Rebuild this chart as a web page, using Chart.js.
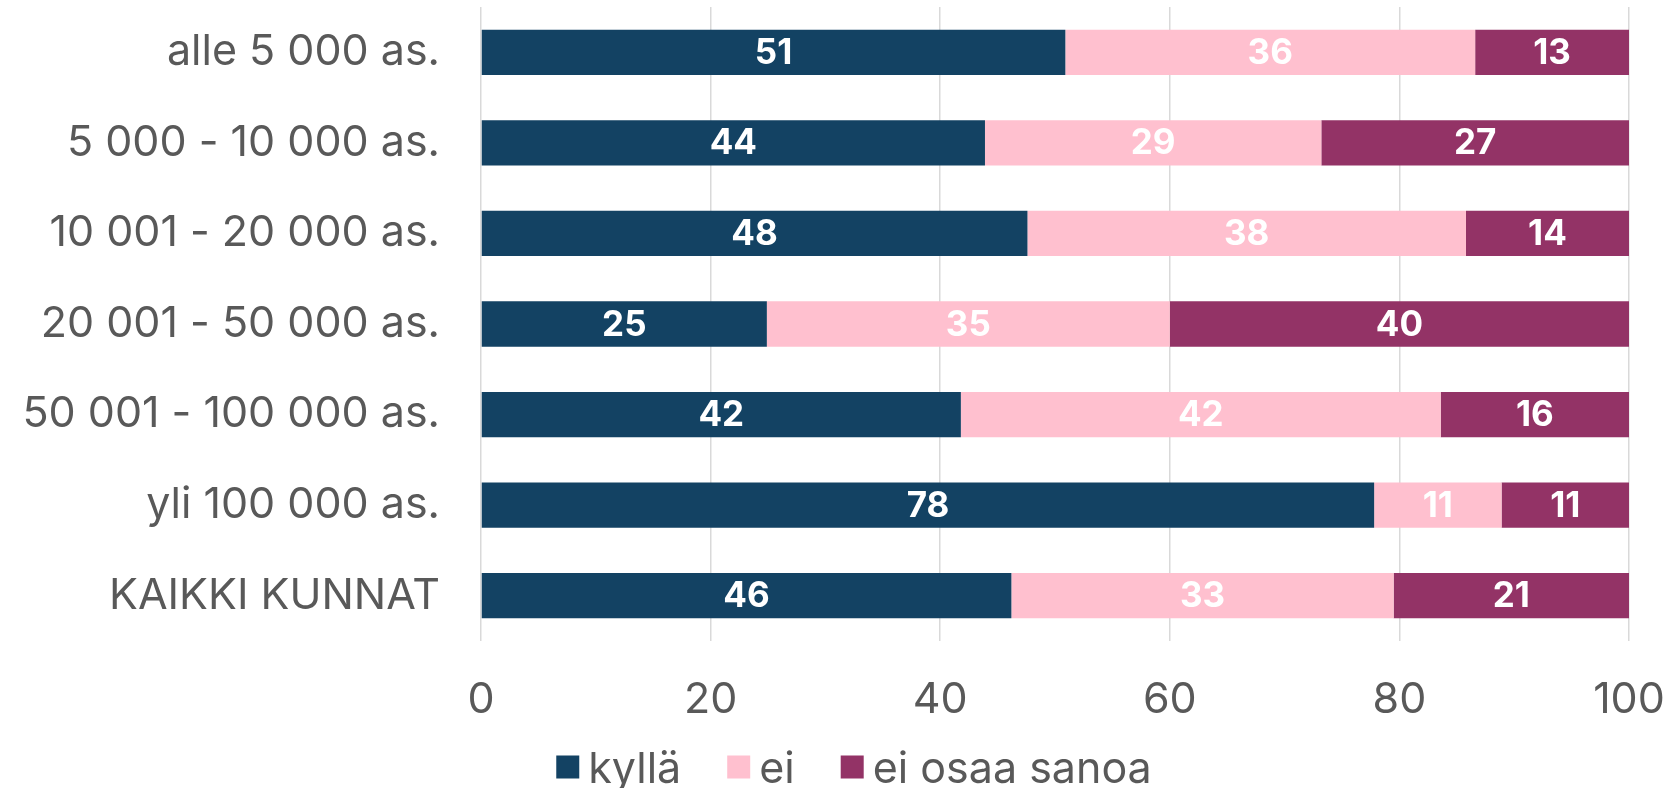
<!DOCTYPE html>
<html>
<head>
<meta charset="utf-8">
<script src="https://cdn.jsdelivr.net/npm/chart.js@4.4.1/dist/chart.umd.min.js"></script>
<style>
  html, body { margin: 0; padding: 0; background: #fff; }
  #wrap { width: 1670px; height: 788px; }
</style>
</head>
<body>
<div id="wrap"><canvas id="chart"></canvas></div>
<script>
const categories = [
  'alle 5 000 as.',
  '5 000 - 10 000 as.',
  '10 001 - 20 000 as.',
  '20 001 - 50 000 as.',
  '50 001 - 100 000 as.',
  'yli 100 000 as.',
  'KAIKKI KUNNAT'
];
const seriesNames = ['kyllä', 'ei', 'ei osaa sanoa'];
const kylla = [50.9, 43.9, 47.6, 24.9, 41.8, 77.8, 46.2];
const ei = [35.7, 29.3, 38.2, 35.1, 41.8, 11.1, 33.3];
const eiOsaa = [13.4, 26.8, 14.2, 40.0, 16.4, 11.1, 20.5];
const xMin = 0;
const xMax = 100;
const xStep = 20;

const colors = ['#134263', '#ffc0cf', '#933366'];
const textGray = '#595959';
const axisFont = { family: 'Inter', size: 43 };

// white value labels centred in each segment
const barLabels = {
  id: 'barLabels',
  afterDatasetsDraw(chart) {
    const ctx = chart.ctx;
    ctx.save();
    ctx.font = '700 35px Inter';
    ctx.fillStyle = '#ffffff';
    ctx.textAlign = 'center';
    ctx.textBaseline = 'middle';
    chart.data.datasets.forEach((ds, i) => {
      chart.getDatasetMeta(i).data.forEach((bar, j) => {
        const p = bar.getProps(['x', 'y', 'base'], true);
        ctx.fillText(Math.round(ds.data[j]), (p.x + p.base) / 2, p.y + 1);
      });
    });
    ctx.restore();
  }
};

// legend row under the axis (built-in one can't space items like the original)
const bottomLegend = {
  id: 'bottomLegend',
  afterDraw(chart) {
    const ctx = chart.ctx;
    const box = 23, gap = 9, itemGap = 46;
    const centerX = 854, centerY = 770;
    ctx.save();
    ctx.font = '43px Inter';
    ctx.textBaseline = 'middle';
    ctx.textAlign = 'left';
    const items = chart.data.datasets.map(ds => ({
      text: ds.label, color: ds.backgroundColor, w: ctx.measureText(ds.label).width
    }));
    let total = items.reduce((s, it) => s + box + gap + it.w, 0) + itemGap * (items.length - 1);
    let x = centerX - total / 2;
    items.forEach(it => {
      ctx.fillStyle = it.color;
      ctx.fillRect(x, centerY - box / 2 - 3, box, box);
      ctx.fillStyle = textGray;
      ctx.fillText(it.text, x + box + gap, centerY);
      x += box + gap + it.w + itemGap;
    });
    ctx.restore();
  }
};

const ctx = document.getElementById('chart');
new Chart(ctx, {
  type: 'bar',
  data: {
    labels: categories,
    datasets: [
      { label: seriesNames[0], data: kylla, backgroundColor: colors[0] },
      { label: seriesNames[1], data: ei, backgroundColor: colors[1] },
      { label: seriesNames[2], data: eiOsaa, backgroundColor: colors[2] }
    ]
  },
  options: {
    indexAxis: 'y',
    responsive: true,
    maintainAspectRatio: false,
    animation: false,
    datasets: {
      bar: { categoryPercentage: 1, barPercentage: 0.5, borderWidth: 0 }
    },
    layout: {
      padding: { top: 7, right: 41, left: 0, bottom: 0 }
    },
    scales: {
      x: {
        stacked: true,
        min: xMin,
        max: xMax,
        ticks: {
          stepSize: xStep,
          color: textGray,
          font: axisFont,
          padding: 33
        },
        grid: { color: '#d9d9d9', lineWidth: 1.5, drawTicks: false },
        border: { display: false },
        afterFit(scale) {
          scale.height = 147;
          scale.paddingLeft = 0;
          scale.paddingRight = 0;
        }
      },
      y: {
        stacked: true,
        ticks: {
          color: textGray,
          font: axisFont,
          padding: 41
        },
        grid: { display: false, drawTicks: false },
        border: { display: false },
        afterFit(scale) {
          scale.width = 481;
          scale.paddingTop = 0;
          scale.paddingBottom = 0;
        }
      }
    },
    plugins: {
      legend: { display: false },
      tooltip: { enabled: false }
    }
  },
  plugins: [barLabels, bottomLegend]
});
</script>
</body>
</html>
